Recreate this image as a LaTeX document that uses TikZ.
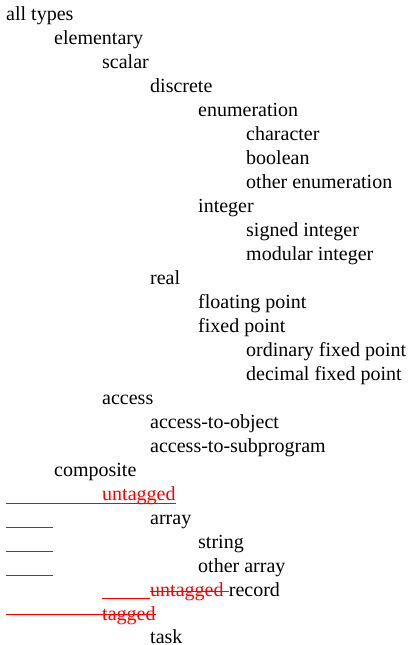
\documentclass[tikz,border=0pt]{standalone}
\usepackage{fontspec}
\setmainfont{Liberation Serif}
\tikzset{
  item/.style={anchor=base west,inner sep=0pt,text depth=0pt,font=\fontsize{20}{24}\selectfont},
  deleted/.style={item,text=red},
  redline/.style={red,line width=0.9pt}
}
\begin{document}
\begin{tikzpicture}[x=1pt,y=-1pt]
\useasboundingbox (0,0) rectangle (407,645);
\node[item] (all) at (6,20) {all types};
\node[item] (elem) at (54,44) {elementary};
\node[item] (scalar) at (102,68) {scalar};
\node[item] (discrete) at (150,92) {discrete};
\node[item] (enum) at (198,116) {enumeration};
\node[item] (char) at (246,140) {character};
\node[item] (bool) at (246,164) {boolean};
\node[item] (otherenum) at (246,188) {other enumeration};
\node[item] (integer) at (198,212) {integer};
\node[item] (signed) at (246,236) {signed integer};
\node[item] (modular) at (246,260) {modular integer};
\node[item] (real) at (150,284) {real};
\node[item] (floating) at (198,308) {floating point};
\node[item] (fixed) at (198,332) {fixed point};
\node[item] (ordinary) at (246,356) {ordinary fixed point};
\node[item] (decimal) at (246,380) {decimal fixed point};
\node[item] (access) at (102,404) {access};
\node[item] (accobj) at (150,428) {access-to-object};
\node[item] (accsub) at (150,452) {access-to-subprogram};
\node[item] (composite) at (54,476) {composite};
\node[deleted] (untagged) at (102,500) {untagged};
\node[item] (array) at (150,524) {array};
\node[item] (string) at (198,548) {string};
\node[item] (otherarray) at (198,572) {other array};
\node[deleted] (untaggedrec) at (150,596) {untagged};
\node[item] (record) at ([xshift=5pt]untaggedrec.base east) {record};
\node[deleted] (tagged) at (102,620) {tagged};
\node[item] (task) at (150,643) {task};
% red marks
\draw[redline] (6,503) -- ([yshift=-3pt]untagged.base east);
\draw[redline] (6,527) -- (53,527);
\draw[redline] (6,551) -- (53,551);
\draw[redline] (6,575) -- (53,575);
\draw[redline] (102,598) -- ([yshift=-2pt]untaggedrec.base west);
\draw[redline] ([yshift=5pt]untaggedrec.base west) -- ([yshift=5pt]record.base west);
\draw[redline] (6,614) -- ([yshift=6pt]tagged.base east);
\end{tikzpicture}
\end{document}
